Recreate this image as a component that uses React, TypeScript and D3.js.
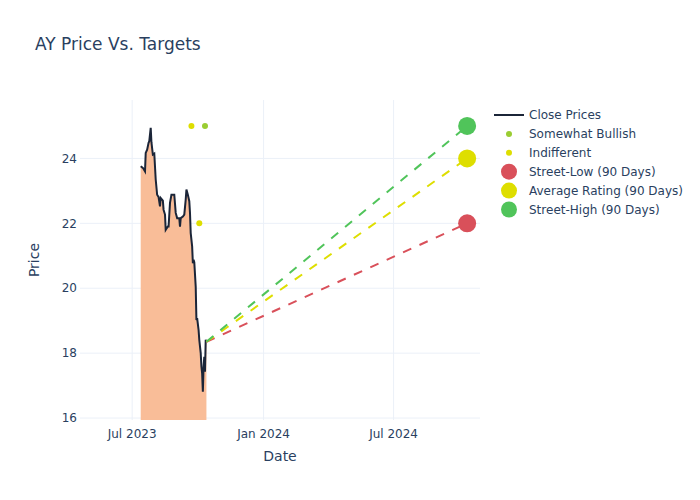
import * as d3 from "d3";

// close prices
const closeDates = [
  "2023-07-13", "2023-07-16", "2023-07-19", "2023-07-20", "2023-07-22", "2023-07-24",
  "2023-07-25", "2023-07-27", "2023-07-28", "2023-07-30", "2023-08-01", "2023-08-03",
  "2023-08-05", "2023-08-07", "2023-08-09", "2023-08-10", "2023-08-13", "2023-08-14",
  "2023-08-16", "2023-08-17", "2023-08-20", "2023-08-21", "2023-08-23", "2023-08-25",
  "2023-08-28", "2023-08-29", "2023-08-31", "2023-09-02", "2023-09-05", "2023-09-06",
  "2023-09-07", "2023-09-10", "2023-09-12", "2023-09-14", "2023-09-15", "2023-09-17",
  "2023-09-19", "2023-09-20", "2023-09-21", "2023-09-23", "2023-09-24", "2023-09-25",
  "2023-09-26", "2023-09-28", "2023-09-29", "2023-09-30", "2023-10-02", "2023-10-03",
  "2023-10-05", "2023-10-06", "2023-10-07", "2023-10-08", "2023-10-09", "2023-10-10",
  "2023-10-11", "2023-10-12", "2023-10-13",
];
const closePrices = [
  23.76, 23.71, 23.6, 24.17, 24.27, 24.48,
  24.53, 24.94, 24.5, 24.12, 24.15, 23.35,
  22.88, 22.81, 22.52, 22.78, 22.7, 22.42,
  22.27, 21.8, 21.9, 21.9, 22.63, 22.88,
  22.88, 22.88, 22.32, 22.16, 22.16, 21.9,
  22.16, 22.21, 22.27, 22.73, 23.04, 22.88,
  22.68, 22.32, 21.7, 21.29, 20.77, 20.88,
  20.8, 20.05, 19.02, 19.08, 18.72, 18.41,
  18.0, 17.58, 17.38, 16.81, 17.58, 17.89,
  17.43, 18.41, 18.35,
];

// analyst ratings
const bullishDates = ["2023-10-11"];
const bullishValues = [25];
const indifferentDates = ["2023-09-22", "2023-10-03"];
const indifferentValues = [25, 22];

// 90 day targets
const targetDate = "2024-10-12";
const targetNames = ["Street-Low (90 Days)", "Average Rating (90 Days)", "Street-High (90 Days)"];
const targetValues = [22, 24, 25];
const targetColors = ["#d9505a", "#dede00", "#50c45a"];

const yTicks = [16, 18, 20, 22, 24];
const xTicks = ["2023-07-01", "2024-01-01", "2024-07-01"];

const W = 700;
const H = 500;
const m = { top: 100, right: 220, bottom: 80, left: 80 };
const txt = "#2a3f5f";
const font = "'DejaVu Sans', sans-serif";

const parse = d3.timeParse("%Y-%m-%d");

export default function App() {
  const x = d3
    .scaleTime()
    .domain([parse("2023-04-19")!, parse("2024-10-30")!])
    .range([m.left, W - m.right]);
  const y = d3.scaleLinear().domain([15.94, 25.8]).range([H - m.bottom, m.top]);

  const close = closeDates.map((d, i) => ({ date: parse(d)!, v: closePrices[i] }));
  const last = close[close.length - 1];

  const line = d3
    .line<{ date: Date; v: number }>()
    .x((d) => x(d.date))
    .y((d) => y(d.v));
  const area = d3
    .area<{ date: Date; v: number }>()
    .x((d) => x(d.date))
    .y0(H - m.bottom)
    .y1((d) => y(d.v));

  const fmt = d3.timeFormat("%b %Y");
  const legendY = (i: number) => 115 + i * 18.9;

  return (
    <div style={{ position: "absolute", left: 0, top: 0 }}>
      <svg width={W} height={H} style={{ display: "block", fontFamily: font }}>
        <rect width={W} height={H} fill="#fff" />
        <defs>
          <clipPath id="plot">
            <rect x={m.left} y={m.top} width={W - m.left - m.right} height={H - m.top - m.bottom} />
          </clipPath>
        </defs>

        {/* grid */}
        {xTicks.map((t) => (
          <line key={t} x1={x(parse(t)!)} x2={x(parse(t)!)} y1={m.top} y2={H - m.bottom} stroke="#ebf0f8" />
        ))}
        {yTicks.map((t) => (
          <line key={t} x1={m.left} x2={W - m.right} y1={y(t)} y2={y(t)} stroke="#ebf0f8" />
        ))}

        <g clipPath="url(#plot)">
          <path d={area(close)!} fill="#f9bd98" />
          <path d={line(close)!} fill="none" stroke="#1b2538" strokeWidth={2} />

          {targetValues.map((v, i) => (
            <line
              key={i}
              x1={x(last.date)}
              y1={y(last.v)}
              x2={x(parse(targetDate)!)}
              y2={y(v)}
              stroke={targetColors[i]}
              strokeWidth={2}
              strokeDasharray="9,9"
            />
          ))}

          {bullishDates.map((d, i) => (
            <circle key={d} cx={x(parse(d)!)} cy={y(bullishValues[i])} r={3} fill="#9acd32" />
          ))}
          {indifferentDates.map((d, i) => (
            <circle key={d} cx={x(parse(d)!)} cy={y(indifferentValues[i])} r={3} fill="#dede00" />
          ))}

          {targetValues.map((v, i) => (
            <circle key={i} cx={x(parse(targetDate)!)} cy={y(v)} r={9} fill={targetColors[i]} />
          ))}
        </g>

        {/* axes */}
        {xTicks.map((t) => (
          <text key={t} x={x(parse(t)!)} y={438} textAnchor="middle" fontSize={12} fill={txt}>
            {fmt(parse(t)!)}
          </text>
        ))}
        {yTicks.map((t) => (
          <text key={t} x={m.left - 3} y={y(t)} dy="0.35em" textAnchor="end" fontSize={12} fill={txt}>
            {t}
          </text>
        ))}
        <text x={(m.left + W - m.right) / 2} y={461} textAnchor="middle" fontSize={14} fill={txt}>
          Date
        </text>
        <text transform={`translate(39,${(m.top + H - m.bottom) / 2}) rotate(-90)`} textAnchor="middle" fontSize={14} fill={txt}>
          Price
        </text>

        <text x={35} y={50} fontSize={17} fill={txt}>
          AY Price Vs. Targets
        </text>

        {/* legend */}
        <g fontSize={12} fill={txt}>
          <line x1={494} x2={524} y1={legendY(0)} y2={legendY(0)} stroke="#1b2538" strokeWidth={2} />
          <text x={529} y={legendY(0)} dy="0.35em">Close Prices</text>
          <circle cx={509} cy={legendY(1)} r={3} fill="#9acd32" />
          <text x={529} y={legendY(1)} dy="0.35em">Somewhat Bullish</text>
          <circle cx={509} cy={legendY(2)} r={3} fill="#dede00" />
          <text x={529} y={legendY(2)} dy="0.35em">Indifferent</text>
          {targetNames.map((n, i) => (
            <g key={n}>
              <circle cx={509} cy={legendY(3 + i)} r={8} fill={targetColors[i]} />
              <text x={529} y={legendY(3 + i)} dy="0.35em">{n}</text>
            </g>
          ))}
        </g>
      </svg>
    </div>
  );
}
